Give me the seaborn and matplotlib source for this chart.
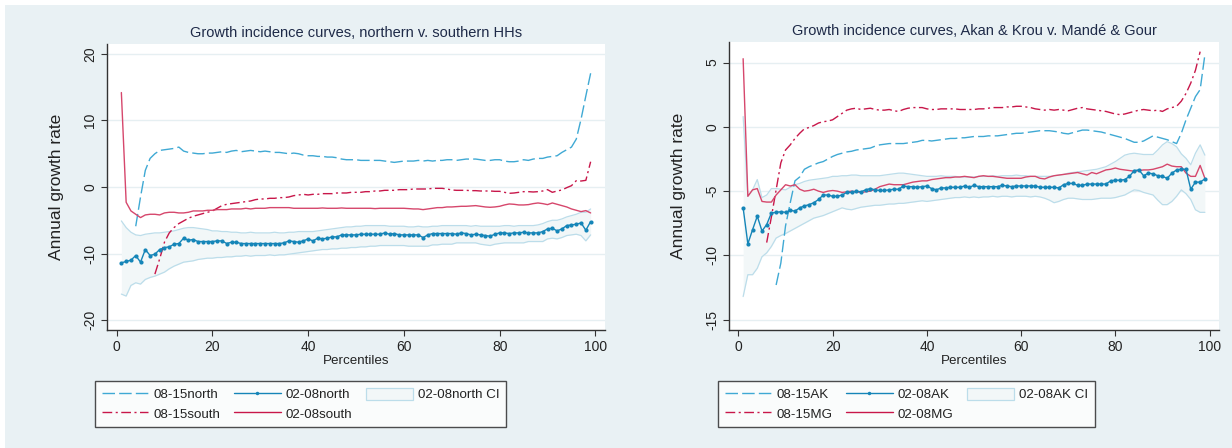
import numpy as np
import pandas as pd
import seaborn as sns
import matplotlib
matplotlib.use("Agg")
import matplotlib.pyplot as plt
from matplotlib.lines import Line2D
from matplotlib.patches import Patch, Rectangle

nan = np.nan
percentiles = list(range(1, 100))

# ---------------- Left panel: northern v. southern ----------------
north_0815 = [nan, nan, nan, -5.9, -1.5, 2.5, 4.3, 5.0, 5.5, 5.6,
              5.7, 5.8, 6.0, 5.4, 5.2, 5.1, 5.0, 5.0, 5.1, 5.1,
              5.2, 5.3, 5.2, 5.4, 5.5, 5.3, 5.4, 5.5, 5.4, 5.3,
              5.4, 5.3, 5.2, 5.2, 5.1, 5.0, 5.1, 5.0, 4.8, 4.7,
              4.7, 4.6, 4.6, 4.5, 4.5, 4.4, 4.2, 4.1, 4.1, 4.1,
              4.0, 4.0, 4.0, 4.0, 4.0, 3.9, 3.8, 3.7, 3.8, 3.9,
              3.9, 3.9, 4.0, 3.9, 4.0, 3.9, 4.0, 4.0, 4.1, 4.1,
              4.0, 4.1, 4.2, 4.2, 4.2, 4.1, 4.0, 4.0, 4.1, 4.1,
              3.9, 3.8, 3.8, 3.9, 4.1, 4.0, 4.2, 4.3, 4.3, 4.5,
              4.6, 4.7, 5.2, 5.6, 6.0, 7.2, 10.2, 13.7, 17.1]

south_0815 = [nan, nan, nan, nan, nan, nan, nan, -13.1, -10.8, -8.3,
              -6.9, -6.1, -5.5, -5.1, -4.7, -4.4, -4.2, -4.0, -3.8, -3.6,
              -3.2, -2.8, -2.6, -2.5, -2.4, -2.3, -2.2, -2.1, -1.9, -1.8,
              -1.8, -1.7, -1.7, -1.6, -1.6, -1.5, -1.3, -1.2, -1.1, -1.2,
              -1.1, -1.1, -1.0, -1.0, -1.0, -0.9, -0.9, -0.9, -0.8, -0.8,
              -0.8, -0.7, -0.7, -0.6, -0.6, -0.5, -0.5, -0.5, -0.4, -0.4,
              -0.4, -0.3, -0.3, -0.3, -0.3, -0.2, -0.2, -0.2, -0.3, -0.45,
              -0.5, -0.5, -0.5, -0.55, -0.55, -0.6, -0.6, -0.6, -0.65, -0.65,
              -0.8, -0.95, -0.9, -0.8, -0.7, -0.7, -0.75, -0.7, -0.6, -0.4,
              -0.8, -0.6, -0.45, -0.1, 0.2, 0.95, 0.9, 1.0, 3.8]

north_0208 = [-11.4, -11.2, -11.0, -10.3, -11.3, -9.4, -10.3, -10.1, -9.4, -9.1,
              -9.0, -8.6, -8.5, -7.7, -8.0, -7.9, -8.2, -8.2, -8.2, -8.2,
              -8.1, -8.1, -8.5, -8.3, -8.3, -8.5, -8.5, -8.5, -8.5, -8.5,
              -8.5, -8.5, -8.5, -8.5, -8.4, -8.1, -8.2, -8.3, -8.1, -7.8,
              -8.1, -7.7, -7.8, -7.7, -7.5, -7.5, -7.2, -7.2, -7.2, -7.2,
              -7.1, -7.1, -7.1, -7.1, -7.1, -6.9, -7.1, -7.0, -7.2, -7.2,
              -7.2, -7.2, -7.2, -7.6, -7.2, -7.0, -7.0, -7.0, -7.0, -7.0,
              -7.1, -6.9, -7.0, -7.2, -7.1, -7.2, -7.3, -7.4, -7.1, -6.9,
              -6.9, -7.0, -6.9, -6.9, -6.8, -6.9, -6.9, -6.9, -6.7, -6.3,
              -6.2, -6.6, -6.3, -5.8, -5.7, -5.6, -5.4, -6.5, -5.2]

south_0208 = [14.2, -2.3, -3.6, -4.1, -4.6, -4.2, -4.1, -4.1, -4.2, -3.9,
              -3.8, -3.8, -3.9, -3.9, -3.8, -3.6, -3.6, -3.6, -3.5, -3.5,
              -3.4, -3.4, -3.4, -3.3, -3.3, -3.3, -3.2, -3.3, -3.2, -3.2,
              -3.2, -3.1, -3.1, -3.1, -3.1, -3.1, -3.2, -3.2, -3.2, -3.2,
              -3.2, -3.2, -3.15, -3.2, -3.2, -3.2, -3.15, -3.2, -3.2, -3.2,
              -3.2, -3.2, -3.2, -3.25, -3.2, -3.2, -3.2, -3.2, -3.2, -3.2,
              -3.25, -3.3, -3.3, -3.4, -3.3, -3.2, -3.1, -3.1, -3.0, -3.0,
              -2.95, -2.9, -2.9, -2.85, -2.8, -2.9, -3.0, -3.05, -3.0, -2.9,
              -2.7, -2.55, -2.6, -2.7, -2.7, -2.65, -2.5, -2.4, -2.5, -2.65,
              -2.4, -2.6, -2.8, -3.0, -3.3, -3.5, -3.7, -3.55, -3.9]

north_ci_hi = [-5.1, -6.1, -6.8, -7.2, -7.3, -7.1, -7.0, -6.9, -6.9, -6.8,
               -6.7, -6.6, -6.4, -6.2, -6.1, -6.1, -6.2, -6.3, -6.4, -6.6,
               -6.6, -6.7, -6.7, -6.8, -6.8, -6.9, -6.9, -6.8, -6.9, -6.9,
               -6.9, -6.9, -6.8, -6.9, -6.9, -6.8, -6.8, -6.7, -6.7, -6.7,
               -6.7, -6.6, -6.5, -6.4, -6.3, -6.2, -6.1, -6.0, -6.0, -5.9,
               -5.9, -5.8, -5.8, -5.8, -5.8, -5.8, -5.9, -5.9, -5.9, -5.9,
               -6.0, -6.0, -5.9, -6.0, -6.0, -5.9, -5.9, -5.8, -5.8, -5.8,
               -5.8, -5.8, -5.8, -5.9, -5.8, -5.9, -5.9, -5.9, -5.9, -5.9,
               -5.8, -5.8, -5.9, -5.8, -5.8, -5.8, -5.8, -5.7, -5.5, -5.2,
               -5.0, -5.0, -4.8, -4.5, -4.3, -4.1, -3.8, -3.8, -3.3]

north_ci_lo = [-16.1, -16.4, -14.8, -14.4, -14.6, -13.9, -13.6, -13.4, -13.1, -12.8,
               -12.3, -11.9, -11.6, -11.3, -11.2, -11.1, -10.9, -10.8, -10.7, -10.7,
               -10.6, -10.6, -10.5, -10.5, -10.4, -10.4, -10.3, -10.4, -10.3, -10.3,
               -10.3, -10.2, -10.3, -10.2, -10.2, -10.1, -10.0, -9.9, -9.8, -9.7,
               -9.6, -9.5, -9.4, -9.4, -9.3, -9.3, -9.2, -9.2, -9.1, -9.1,
               -9.0, -9.0, -8.9, -8.9, -8.8, -8.8, -8.8, -8.8, -8.8, -8.8,
               -8.9, -8.9, -8.9, -8.9, -8.9, -8.7, -8.7, -8.6, -8.6, -8.6,
               -8.4, -8.4, -8.4, -8.4, -8.4, -8.6, -8.7, -8.8, -8.6, -8.5,
               -8.4, -8.4, -8.4, -8.4, -8.4, -8.2, -8.2, -8.2, -8.2, -7.8,
               -7.7, -7.8, -7.6, -7.3, -7.2, -7.1, -7.3, -8.1, -7.2]

# ---------------- Right panel: Akan & Krou v. Mandé & Gour ----------------
ak_0815 = [nan, nan, nan, nan, nan, nan, nan, -12.3, -10.6, -7.7,
           -5.9, -4.2, -3.9, -3.3, -3.1, -2.95, -2.8, -2.7, -2.5, -2.3,
           -2.15, -2.05, -1.95, -1.9, -1.8, -1.75, -1.7, -1.65, -1.5, -1.4,
           -1.35, -1.3, -1.3, -1.3, -1.3, -1.25, -1.2, -1.15, -1.05, -1.05,
           -1.1, -1.05, -1.0, -0.95, -0.9, -0.9, -0.85, -0.85, -0.8, -0.75,
           -0.75, -0.75, -0.7, -0.7, -0.7, -0.65, -0.6, -0.55, -0.5, -0.5,
           -0.45, -0.4, -0.35, -0.3, -0.3, -0.3, -0.35, -0.4, -0.5, -0.55,
           -0.45, -0.35, -0.25, -0.25, -0.3, -0.35, -0.4, -0.5, -0.6, -0.7,
           -0.8, -0.9, -1.05, -1.2, -1.2, -1.1, -0.9, -0.7, -0.8, -0.9,
           -1.0, -1.15, -1.3, -0.5, 0.55, 1.45, 2.35, 2.9, 5.6]

mg_0815 = [nan, nan, nan, nan, nan, -9.0, -7.0, -4.9, -2.8, -1.8,
           -1.4, -0.9, -0.5, -0.15, -0.05, 0.1, 0.3, 0.4, 0.45, 0.55,
           0.8, 1.05, 1.3, 1.4, 1.45, 1.35, 1.4, 1.45, 1.35, 1.3,
           1.3, 1.35, 1.25, 1.2, 1.35, 1.45, 1.5, 1.5, 1.5, 1.4,
           1.35, 1.35, 1.4, 1.4, 1.4, 1.4, 1.35, 1.35, 1.35, 1.35,
           1.4, 1.4, 1.45, 1.5, 1.5, 1.5, 1.55, 1.55, 1.6, 1.6,
           1.55, 1.5, 1.4, 1.35, 1.3, 1.35, 1.3, 1.35, 1.3, 1.25,
           1.35, 1.45, 1.5, 1.4, 1.35, 1.3, 1.25, 1.2, 1.1, 1.0,
           0.95, 1.0, 1.1, 1.2, 1.3, 1.35, 1.3, 1.25, 1.3, 1.2,
           1.4, 1.5, 1.6, 2.0, 2.6, 3.4, 4.4, 5.85, nan]

ak_0208 = [-6.3, -9.1, -8.0, -6.95, -8.1, -7.6, -6.7, -6.65, -6.6, -6.65,
           -6.5, -6.55, -6.3, -6.15, -6.05, -5.9, -5.65, -5.3, -5.3, -5.4,
           -5.4, -5.3, -5.1, -5.1, -5.0, -5.05, -4.9, -4.8, -4.9, -4.95,
           -4.95, -4.9, -4.85, -4.85, -4.6, -4.65, -4.65, -4.7, -4.65, -4.6,
           -4.8, -4.9, -4.75, -4.75, -4.7, -4.7, -4.7, -4.6, -4.7, -4.55,
           -4.65, -4.65, -4.65, -4.65, -4.65, -4.55, -4.6, -4.65, -4.6, -4.6,
           -4.6, -4.6, -4.6, -4.7, -4.7, -4.7, -4.7, -4.75, -4.5, -4.4,
           -4.4, -4.55, -4.55, -4.45, -4.45, -4.45, -4.45, -4.45, -4.2, -4.15,
           -4.15, -4.1, -3.85, -3.4, -3.35, -3.8, -3.6, -3.65, -3.8, -3.85,
           -4.0, -3.6, -3.35, -3.3, -3.3, -4.85, -4.3, -4.3, -4.05]

mg_0208 = [5.3, -5.4, -4.9, -4.8, -5.8, -5.85, -5.85, -5.3, -4.9, -4.5,
           -4.6, -4.5, -4.85, -5.0, -4.95, -4.85, -5.0, -5.1, -5.0, -4.95,
           -5.0, -5.1, -5.05, -5.0, -5.05, -5.1, -5.05, -5.0, -4.85, -4.65,
           -4.55, -4.45, -4.5, -4.5, -4.5, -4.4, -4.3, -4.25, -4.2, -4.2,
           -4.1, -4.05, -4.0, -3.95, -3.95, -3.9, -3.9, -3.85, -3.9, -3.95,
           -3.85, -3.8, -3.85, -3.85, -3.9, -3.95, -4.0, -4.0, -4.0, -4.0,
           -3.9, -3.85, -3.85, -4.0, -4.05, -3.9, -3.8, -3.75, -3.7, -3.65,
           -3.6, -3.55, -3.65, -3.75, -3.55, -3.65, -3.5, -3.35, -3.3, -3.2,
           -3.3, -3.35, -3.4, -3.45, -3.4, -3.35, -3.35, -3.3, -3.2, -3.1,
           -2.9, -3.05, -3.1, -3.1, -3.6, -3.85, -3.85, -3.0, -4.0]

ak_ci_hi = [0.8, -5.4, -4.9, -4.1, -5.5, -5.3, -4.8, -4.8, -4.85, -4.9,
            -4.7, -4.5, -4.4, -4.25, -4.15, -4.1, -4.05, -4.0, -3.95, -3.85,
            -3.85, -3.8, -3.8, -3.75, -3.75, -3.8, -3.8, -3.8, -3.8, -3.8,
            -3.75, -3.7, -3.65, -3.6, -3.6, -3.65, -3.7, -3.75, -3.8, -3.85,
            -3.85, -3.85, -3.8, -3.85, -3.85, -3.85, -3.9, -3.9, -3.9, -3.9,
            -3.85, -3.85, -3.85, -3.8, -3.85, -3.8, -3.8, -3.8, -3.75, -3.8,
            -3.8, -3.85, -3.85, -3.85, -3.85, -3.85, -3.8, -3.75, -3.7, -3.6,
            -3.55, -3.5, -3.45, -3.4, -3.35, -3.3, -3.2, -3.1, -2.9, -2.7,
            -2.45, -2.2, -2.1, -2.05, -2.1, -2.15, -2.15, -2.15, -1.8, -1.4,
            -1.15, -1.3, -1.55, -2.1, -2.45, -2.95, -2.05, -1.4, -2.2]

ak_ci_lo = [-13.2, -11.5, -11.5, -11.0, -10.1, -9.8, -9.3, -8.65, -8.45, -8.3,
            -8.1, -7.9, -7.7, -7.5, -7.3, -7.1, -7.0, -6.9, -6.75, -6.6,
            -6.45, -6.3, -6.4, -6.45, -6.35, -6.25, -6.2, -6.15, -6.1, -6.1,
            -6.05, -6.0, -6.0, -5.95, -5.95, -5.9, -5.85, -5.8, -5.75, -5.8,
            -5.75, -5.7, -5.65, -5.6, -5.55, -5.5, -5.5, -5.45, -5.5, -5.45,
            -5.5, -5.45, -5.45, -5.4, -5.45, -5.4, -5.4, -5.45, -5.4, -5.4,
            -5.4, -5.45, -5.4, -5.45, -5.55, -5.7, -5.9, -5.8, -5.65, -5.55,
            -5.55, -5.6, -5.65, -5.65, -5.65, -5.6, -5.55, -5.55, -5.55, -5.5,
            -5.4, -5.3, -5.1, -4.9, -4.95, -5.1, -5.2, -5.3, -5.7, -6.05,
            -6.05, -5.8, -5.4, -4.9, -5.2, -5.65, -6.45, -6.65, -6.65]

titles = ["Growth incidence curves, northern v. southern HHs",
          "Growth incidence curves, Akan & Krou v. Mandé & Gour"]
labels_left = ["08-15north", "08-15south", "02-08north", "02-08south", "02-08north CI"]
labels_right = ["08-15AK", "08-15MG", "02-08AK", "02-08MG", "02-08AK CI"]
yticks_left = [-20, -10, 0, 10, 20]
yticks_right = [-15, -10, -5, 0, 5]
xticks = [0, 20, 40, 60, 80, 100]

# ---------------- styling ----------------
sns.set_theme(style="white")
plt.rcParams['font.family'] = ['Liberation Sans', 'DejaVu Sans']

BG = "#E9F1F4"
GRID = "#E6EFF2"
C_LBLUE = "#3FA9D4"
C_DBLUE = "#1585B8"
C_DRED = "#C8174A"
C_PRED = "#D6476C"
CI_FILL = "#F2F7F8"
CI_EDGE = "#BCDDEA"
TXT = "#1E2A48"

DASH = (0, (9, 3))
DASHDOT = (0, (7, 2.5, 1.5, 2.5))

W, H = 1232, 448
fig = plt.figure(figsize=(W / 100, H / 100), dpi=100, facecolor="white")
fig.patches.append(Rectangle((5 / W, 0), 1 - 5 / W, 1 - 5 / H, transform=fig.transFigure,
                             facecolor=BG, edgecolor="none", zorder=-10))

ax_l = fig.add_axes([107 / W, 1 - 330 / H, (605 - 107) / W, (330 - 44) / H])
ax_r = fig.add_axes([729 / W, 1 - 330 / H, (1219 - 729) / W, (330 - 42) / H])
for a in (ax_l, ax_r):
    a.set_zorder(2)


def draw(ax, dashed_b, dashed_r, solid_b, solid_r, lo, hi, title, yticks, ylim, labels, leg_x, tpad):
    ax.set_facecolor("white")
    for y in yticks:
        ax.axhline(y, color=GRID, lw=1.0, zorder=0)
    ax.fill_between(percentiles, lo, hi, color=CI_FILL, lw=0, zorder=1)
    sns.lineplot(x=percentiles, y=lo, ax=ax, color=CI_EDGE, lw=0.9, estimator=None, zorder=2)
    sns.lineplot(x=percentiles, y=hi, ax=ax, color=CI_EDGE, lw=0.9, estimator=None, zorder=2)
    sns.lineplot(x=percentiles, y=dashed_b, ax=ax, color=C_LBLUE, lw=1.0,
                 linestyle=DASH, estimator=None, zorder=3)
    sns.lineplot(x=percentiles, y=dashed_r, ax=ax, color=C_DRED, lw=1.0,
                 linestyle=DASHDOT, estimator=None, zorder=3)
    sns.lineplot(x=percentiles, y=solid_r, ax=ax, color=C_PRED, lw=1.0,
                 estimator=None, zorder=3)
    sns.lineplot(x=percentiles, y=solid_b, ax=ax, color=C_DBLUE, lw=1.0, marker="o",
                 markersize=3.0, markeredgewidth=0, estimator=None, zorder=4)

    ax.set_xlim(-2, 102)
    ax.set_ylim(*ylim)
    ax.set_xticks(xticks)
    ax.set_yticks(yticks)
    ax.set_yticklabels([str(t) for t in yticks], rotation=90, va="center")
    ax.tick_params(axis="both", direction="out", length=4, width=0.8, color="#333333",
                   labelsize=10, labelcolor="#222222", pad=3, left=True, bottom=True)
    for s in ["top", "right"]:
        ax.spines[s].set_visible(False)
    for s in ["left", "bottom"]:
        ax.spines[s].set_color("#333333")
        ax.spines[s].set_linewidth(1.0)
    ax.set_title(title, fontsize=10.5, color=TXT, pad=tpad)
    ax.set_xlabel("Percentiles", fontsize=9.6, color="#222222", labelpad=1)
    ax.set_ylabel("Annual growth rate", fontsize=12.5, color="#222222", labelpad=14)

    handles = [
        Line2D([], [], color=C_LBLUE, lw=1.0, linestyle=DASH),
        Line2D([], [], color=C_DRED, lw=1.0, linestyle=DASHDOT),
        Line2D([], [], color=C_DBLUE, lw=1.0, marker="o", markersize=2.5, markeredgewidth=0),
        Line2D([], [], color=C_DRED, lw=1.0),
        Patch(facecolor=CI_FILL, edgecolor=CI_EDGE, lw=0.9),
    ]
    leg = fig.legend(handles, labels, ncol=3, loc="upper left",
                     bbox_to_anchor=(leg_x / W, 1 - 381 / H), bbox_transform=fig.transFigure,
                     frameon=True, fancybox=False, fontsize=9.6, handlelength=3.5,
                     handleheight=1.0, columnspacing=1.0, handletextpad=0.4,
                     borderpad=0.5, labelspacing=0.45, borderaxespad=0)
    leg.get_frame().set_edgecolor("#222222")
    leg.get_frame().set_linewidth(1.0)
    leg.get_frame().set_facecolor("white")
    for t in leg.get_texts():
        t.set_color("#222222")


draw(ax_l, north_0815, south_0815, north_0208, south_0208, north_ci_lo, north_ci_hi,
     titles[0], yticks_left, (-21.5, 21.5), labels_left, 95, 5)
draw(ax_r, ak_0815, mg_0815, ak_0208, mg_0208, ak_ci_lo, ak_ci_hi,
     titles[1], yticks_right, (-15.8, 6.6), labels_right, 718, 5)

fig.savefig("out.png", dpi=100, facecolor=fig.get_facecolor())
